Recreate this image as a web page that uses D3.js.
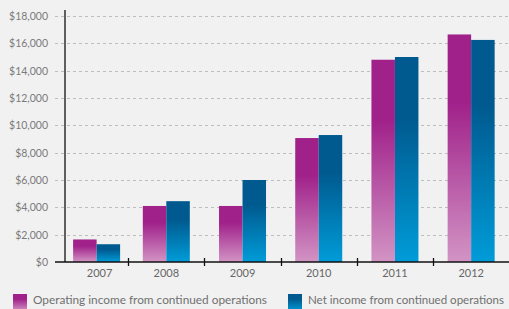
<!DOCTYPE html>
<html>
<head>
<meta charset="utf-8">
<script src="https://cdn.jsdelivr.net/npm/d3@7"></script>
<style>
  body { margin: 0; background: #f1f1f1; }
  svg { display: block; font-family: Lato, "Open Sans", sans-serif; }
</style>
</head>
<body>
<svg id="chart" width="509" height="309"></svg>
<script>
var years = ["2007", "2008", "2009", "2010", "2011", "2012"];
var operatingIncome = [1650, 4100, 4100, 9070, 14800, 16650];
var netIncome = [1300, 4450, 6000, 9290, 15000, 16250];
var yTicks = [0, 2000, 4000, 6000, 8000, 10000, 12000, 14000, 16000, 18000];
var seriesNames = ["Operating income from continued operations", "Net income from continued operations"];

var svg = d3.select("#chart"),
    width = +svg.attr("width"),
    height = +svg.attr("height");

var axisX = 65, gridLeft = 55;

var x = d3.scaleBand()
    .domain(years)
    .range([52, 509.25]);

var y = d3.scaleLinear()
    .domain([0, 18000])
    .range([262, 16]);

// gradients (dark top, light bottom)
var defs = svg.append("defs");
var grads = [
  {id: "gMag", top: "#a0218a", bottom: "#d294c4"},
  {id: "gBlue", top: "#005a8f", bottom: "#009cd8"}
];
grads.forEach(g => {
  var lg = defs.append("linearGradient")
      .attr("id", g.id)
      .attr("x1", 0).attr("y1", 0).attr("x2", 0).attr("y2", 1);
  lg.append("stop").attr("offset", "0%").attr("stop-color", g.top);
  lg.append("stop").attr("offset", "30%").attr("stop-color", g.top);
  lg.append("stop").attr("offset", "100%").attr("stop-color", g.bottom);
});

// gridlines + y labels
svg.append("g")
  .selectAll("line")
  .data(yTicks.filter(d => d > 0))
  .enter().append("line")
    .attr("x1", gridLeft).attr("x2", width)
    .attr("y1", d => Math.round(y(d)) + 0.5)
    .attr("y2", d => Math.round(y(d)) + 0.5)
    .attr("stroke", "#bdbdbd")
    .attr("stroke-width", 1.2)
    .attr("stroke-dasharray", "3,3");

svg.append("g")
  .selectAll("text")
  .data(yTicks)
  .enter().append("text")
    .attr("x", 48)
    .attr("y", d => y(d) + 4)
    .attr("text-anchor", "end")
    .attr("font-size", 10.5)
    .attr("fill", "#7a7a7a")
    .text(d => "$" + d3.format(",")(d));

// centre of the visible part of each band (first band is cut by the y axis)
var center = d => (Math.max(x(d), axisX) + x(d) + x.bandwidth()) / 2;
var barW = 23.5;

var bars = svg.append("g");
bars.selectAll("rect.op")
  .data(years)
  .enter().append("rect")
    .attr("class", "op")
    .attr("x", d => center(d) - barW)
    .attr("y", (d, i) => y(operatingIncome[i]))
    .attr("width", barW)
    .attr("height", (d, i) => y(0) - y(operatingIncome[i]))
    .attr("fill", "url(#gMag)");

bars.selectAll("rect.net")
  .data(years)
  .enter().append("rect")
    .attr("class", "net")
    .attr("x", d => center(d))
    .attr("y", (d, i) => y(netIncome[i]))
    .attr("width", barW)
    .attr("height", (d, i) => y(0) - y(netIncome[i]))
    .attr("fill", "url(#gBlue)");

// axes
svg.append("line")
    .attr("x1", axisX).attr("x2", axisX)
    .attr("y1", 10).attr("y2", y(0))
    .attr("stroke", "#111").attr("stroke-width", 1.3);

svg.append("line")
    .attr("x1", gridLeft).attr("x2", width)
    .attr("y1", y(0)).attr("y2", y(0))
    .attr("stroke", "#111").attr("stroke-width", 1.5);

svg.append("g")
  .selectAll("line")
  .data(years.slice(1))
  .enter().append("line")
    .attr("x1", d => Math.round(x(d)) + 0.5)
    .attr("x2", d => Math.round(x(d)) + 0.5)
    .attr("y1", y(0) - 4).attr("y2", y(0) + 4)
    .attr("stroke", "#111").attr("stroke-width", 1.3);

svg.append("g")
  .selectAll("text")
  .data(years)
  .enter().append("text")
    .attr("x", d => center(d) + (d === years[0] ? 3 : 0))
    .attr("y", 277)
    .attr("text-anchor", "middle")
    .attr("font-size", 11)
    .attr("fill", "#666")
    .text(d => d);

// legend
var legendX = [13, 288];
var legendLen = [234, 196];
var legend = svg.append("g");
seriesNames.forEach((name, i) => {
  legend.append("rect")
      .attr("x", legendX[i]).attr("y", 294)
      .attr("width", 14).attr("height", 17)
      .attr("fill", i === 0 ? "url(#gMag)" : "url(#gBlue)");
  legend.append("text")
      .attr("x", legendX[i] + 20).attr("y", 304)
      .attr("font-size", 11.5)
      .attr("fill", "#707070")
      .attr("textLength", legendLen[i])
      .attr("lengthAdjust", "spacingAndGlyphs")
      .text(name);
});
</script>
</body>
</html>
